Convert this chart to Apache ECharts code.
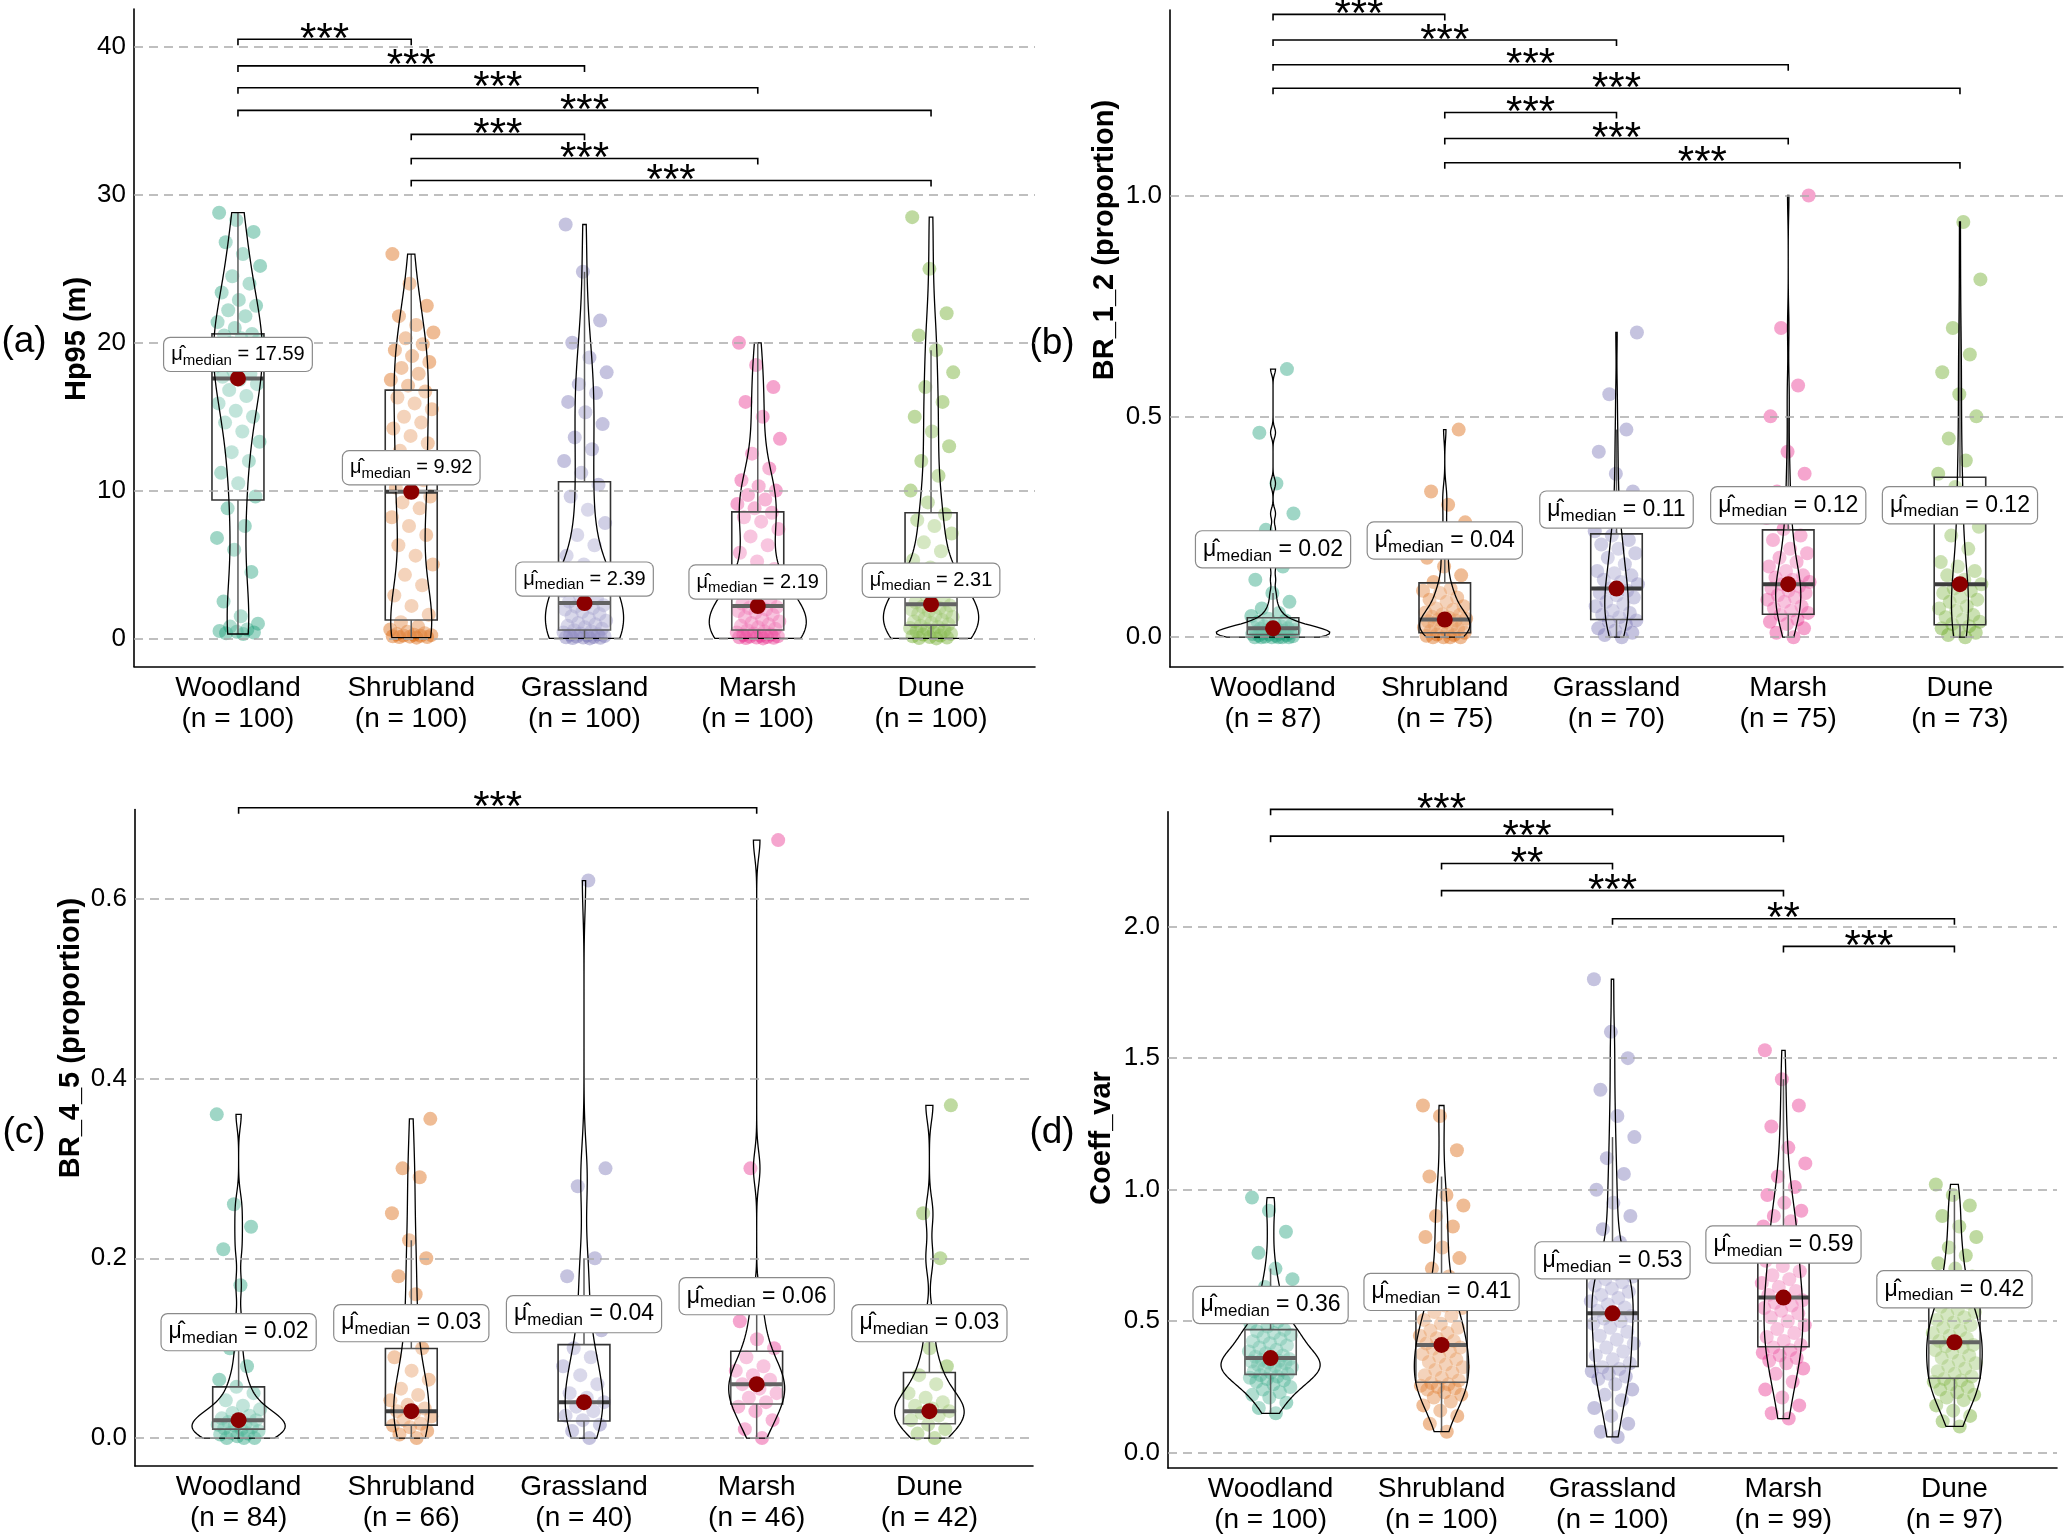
<!DOCTYPE html>
<html><head><meta charset="utf-8">
<script src="https://cdn.jsdelivr.net/npm/echarts@6/dist/echarts.min.js"></script>
<style>html,body{margin:0;padding:0;background:#fff}#c{width:2067px;height:1536px}</style>
</head><body><div id="c"></div>
<script>
// ---------------- DATA ----------------
const categories = ['Woodland','Shrubland','Grassland','Marsh','Dune'];
const colors = ['#1B9E77','#D95F02','#7570B3','#E7298A','#66A61E'];

// (a) Hp95 (m)
const nA = [100,100,100,100,100];
const medA = [17.59, 9.92, 2.39, 2.19, 2.31];
const q1A = [9.36, 1.25, 0.57, 0.57, 0.9];
const q3A = [20.6, 16.8, 10.6, 8.56, 8.5];
const ptsA_Woodland = [0.3,0.35,0.4,0.45,0.5,0.6,0.8,1.0,1.5,2.5,4.5,6.0,6.8,7.6,8.8,9.6,10.5,11.2,12.0,12.6,13.3,14.0,14.6,15.0,15.4,15.9,16.4,16.8,17.2,17.5,17.7,17.9,18.1,18.4,18.7,19.0,19.2,19.4,19.6,19.8,20.0,20.2,20.3,20.5,20.6,21.0,21.4,21.8,22.2,22.5,22.9,23.4,24.0,24.5,25.2,26.0,26.8,27.5,28.3,28.8];
const ptsA_Shrubland = [0.05,0.1,0.1,0.12,0.15,0.18,0.2,0.22,0.25,0.3,0.35,0.45,0.6,0.8,1.1,1.6,2.2,2.9,3.6,4.3,5.0,5.6,6.3,7.0,7.6,8.2,8.8,9.2,9.6,9.9,10.2,10.7,11.2,11.7,12.2,12.7,13.2,13.7,14.2,14.6,15.0,15.5,15.9,16.3,16.7,17.1,17.5,17.9,18.3,18.7,19.1,19.5,19.9,20.3,20.7,21.2,21.8,22.5,24.0,26.0];
const ptsA_Grassland = [0,0.02,0.04,0.06,0.08,0.1,0.13,0.16,0.2,0.24,0.28,0.33,0.4,0.47,0.55,0.65,0.75,0.85,0.95,1.05,1.2,1.35,1.5,1.65,1.8,1.95,2.05,2.15,2.25,2.35,2.5,2.7,2.9,3.2,3.5,3.9,4.4,5.0,5.6,6.3,7.0,7.8,8.7,9.6,10.4,11.2,12.0,12.8,13.6,14.5,15.3,16.0,16.6,17.2,18.0,19.0,20.0,21.5,24.8,28.0];
const ptsA_Marsh = [0,0.02,0.04,0.06,0.08,0.1,0.12,0.15,0.18,0.22,0.27,0.33,0.4,0.47,0.55,0.65,0.75,0.85,0.95,1.05,1.15,1.3,1.45,1.6,1.75,1.85,1.95,2.05,2.12,2.18,2.35,2.6,2.9,3.3,3.7,4.2,4.7,5.2,5.8,6.3,6.9,7.4,7.9,8.2,8.5,8.8,9.1,9.4,9.7,10.0,10.3,10.7,11.5,12.5,13.5,15.0,16.0,17.0,18.5,20.0];
const ptsA_Dune = [0,0.03,0.06,0.1,0.15,0.2,0.26,0.32,0.4,0.48,0.55,0.62,0.7,0.78,0.86,0.95,1.05,1.15,1.25,1.35,1.45,1.55,1.65,1.75,1.85,1.95,2.05,2.15,2.22,2.29,2.45,2.65,2.9,3.2,3.5,3.9,4.3,4.8,5.3,5.9,6.5,7.1,7.6,8.0,8.4,9.2,10.0,11.0,12.0,13.0,14.0,15.0,16.0,17.0,18.0,19.5,20.5,22.0,25.0,28.5];
const ticksA = [0,10,20,30,40];
const pairsA = [[1,2],[1,3],[1,4],[1,5],[2,3],[2,4],[2,5]];
const starsA = ['***','***','***','***','***','***','***'];
const bracketYA = [40.53,38.73,37.25,35.72,34.1,32.47,30.98];

// (b) BR_1_2 (proportion)
const nB = [87,75,70,75,73];
const medB = [0.02,0.04,0.11,0.12,0.12];
const q1B = [0.006,0.010,0.04,0.052,0.028];
const q3B = [0.044,0.123,0.234,0.243,0.362];
const ptsB_Woodland = [0,0,0,0,0,0,0.001,0.002,0.003,0.004,0.005,0.006,0.007,0.008,0.009,0.01,0.011,0.012,0.014,0.015,0.016,0.018,0.019,0.02,0.02,0.022,0.024,0.025,0.028,0.03,0.034,0.038,0.042,0.048,0.055,0.065,0.08,0.1,0.13,0.16,0.243,0.28,0.348,0.463,0.607];
const ptsB_Shrubland = [0,0,0,0,0.003,0.005,0.006,0.01,0.012,0.014,0.018,0.02,0.022,0.026,0.028,0.03,0.034,0.036,0.038,0.04,0.042,0.044,0.046,0.05,0.052,0.056,0.062,0.065,0.07,0.08,0.085,0.09,0.1,0.105,0.11,0.125,0.14,0.16,0.18,0.2,0.22,0.26,0.3,0.33,0.47];
const ptsB_Grassland = [0,0.005,0.01,0.015,0.02,0.03,0.035,0.038,0.045,0.05,0.055,0.06,0.07,0.075,0.08,0.09,0.095,0.1,0.105,0.11,0.12,0.125,0.13,0.14,0.145,0.15,0.165,0.18,0.19,0.2,0.21,0.22,0.23,0.24,0.27,0.3,0.33,0.37,0.42,0.47,0.55,0.69];
const ptsB_Marsh = [0,0.01,0.02,0.03,0.035,0.04,0.05,0.055,0.06,0.065,0.07,0.08,0.085,0.09,0.095,0.1,0.105,0.11,0.115,0.12,0.125,0.13,0.135,0.14,0.15,0.16,0.17,0.18,0.19,0.2,0.22,0.23,0.245,0.27,0.3,0.33,0.37,0.42,0.5,0.57,0.7,1.0];
const ptsB_Dune = [0,0.005,0.01,0.015,0.02,0.025,0.03,0.035,0.04,0.045,0.05,0.06,0.065,0.07,0.08,0.085,0.09,0.1,0.105,0.11,0.12,0.13,0.14,0.15,0.16,0.17,0.2,0.23,0.25,0.27,0.3,0.32,0.34,0.37,0.4,0.45,0.5,0.55,0.6,0.64,0.7,0.81,0.94];
const ticksB = [0,0.5,1.0];
const pairsB = [[1,2],[1,3],[1,4],[1,5],[2,3],[2,4],[2,5]];
const starsB = ['***','***','***','***','***','***','***'];
const bracketYB = [1.410,1.352,1.296,1.243,1.188,1.129,1.074];

// (c) BR_4_5 (proportion)
const nC = [84,66,40,46,42];
const medC = [0.02,0.03,0.04,0.06,0.03];
const q1C = [0.010,0.0145,0.019,0.038,0.016];
const q3C = [0.057,0.0996,0.104,0.0966,0.073];
const ptsC_Woodland = [0,0,0,0.002,0.004,0.005,0.006,0.008,0.01,0.011,0.012,0.014,0.015,0.016,0.018,0.02,0.021,0.022,0.025,0.028,0.032,0.036,0.042,0.05,0.057,0.065,0.08,0.1,0.13,0.17,0.21,0.235,0.26,0.36];
const ptsC_Shrubland = [0,0.004,0.008,0.012,0.014,0.016,0.02,0.024,0.028,0.03,0.033,0.037,0.042,0.048,0.055,0.065,0.075,0.09,0.1,0.12,0.14,0.16,0.18,0.2,0.22,0.25,0.29,0.3,0.355];
const ptsC_Grassland = [0,0.008,0.015,0.02,0.025,0.03,0.035,0.04,0.045,0.05,0.06,0.07,0.08,0.09,0.1,0.12,0.15,0.18,0.2,0.28,0.3,0.62];
const ptsC_Marsh = [0,0.01,0.02,0.03,0.035,0.04,0.045,0.05,0.055,0.06,0.065,0.07,0.075,0.08,0.09,0.1,0.11,0.13,0.15,0.3,0.665];
const ptsC_Dune = [0,0.005,0.01,0.015,0.02,0.025,0.028,0.03,0.033,0.036,0.04,0.045,0.05,0.06,0.07,0.08,0.1,0.13,0.2,0.25,0.37];
const ticksC = [0,0.2,0.4,0.6];
const pairsC = [[1,4]];
const starsC = ['***'];
const bracketYC = [0.701];

// (d) Coeff_var
const nD = [100,100,100,99,97];
const medD = [0.36,0.41,0.53,0.59,0.42];
const q1D = [0.298,0.268,0.328,0.403,0.283];
const q3D = [0.468,0.588,0.698,0.828,0.573];
const ptsD_Woodland = [0.15,0.17,0.19,0.21,0.22,0.23,0.24,0.25,0.26,0.27,0.275,0.28,0.285,0.29,0.295,0.3,0.305,0.31,0.315,0.32,0.325,0.33,0.335,0.34,0.343,0.347,0.35,0.353,0.356,0.359,0.365,0.37,0.378,0.385,0.392,0.4,0.408,0.416,0.424,0.432,0.44,0.448,0.455,0.462,0.467,0.48,0.49,0.5,0.52,0.54,0.56,0.58,0.6,0.63,0.66,0.7,0.76,0.84,0.92,0.97];
const ptsD_Shrubland = [0.08,0.11,0.14,0.16,0.18,0.195,0.21,0.22,0.23,0.24,0.245,0.25,0.255,0.26,0.265,0.275,0.285,0.295,0.305,0.315,0.325,0.335,0.345,0.355,0.365,0.375,0.385,0.395,0.4,0.408,0.415,0.425,0.435,0.445,0.455,0.465,0.475,0.49,0.505,0.52,0.535,0.55,0.56,0.575,0.585,0.61,0.64,0.67,0.7,0.74,0.78,0.82,0.86,0.9,0.94,0.98,1.05,1.15,1.28,1.32];
const ptsD_Grassland = [0.06,0.08,0.11,0.14,0.17,0.2,0.22,0.24,0.26,0.28,0.29,0.3,0.31,0.318,0.325,0.34,0.355,0.37,0.385,0.4,0.415,0.43,0.445,0.46,0.475,0.49,0.5,0.51,0.52,0.528,0.54,0.552,0.564,0.576,0.588,0.6,0.612,0.624,0.636,0.648,0.66,0.67,0.68,0.69,0.697,0.72,0.76,0.8,0.85,0.9,0.95,1.0,1.06,1.12,1.2,1.28,1.38,1.5,1.6,1.8];
const ptsD_Marsh = [0.13,0.15,0.18,0.21,0.24,0.27,0.3,0.32,0.34,0.35,0.36,0.37,0.38,0.39,0.4,0.41,0.425,0.44,0.455,0.47,0.485,0.5,0.515,0.53,0.54,0.55,0.56,0.57,0.58,0.588,0.6,0.615,0.63,0.645,0.66,0.675,0.69,0.71,0.73,0.75,0.77,0.79,0.805,0.815,0.825,0.84,0.86,0.88,0.9,0.92,0.95,0.98,1.01,1.05,1.1,1.16,1.24,1.32,1.42,1.53];
const ptsD_Dune = [0.1,0.12,0.14,0.16,0.18,0.2,0.21,0.22,0.23,0.24,0.25,0.26,0.27,0.275,0.28,0.29,0.3,0.31,0.32,0.33,0.34,0.35,0.36,0.37,0.38,0.39,0.4,0.405,0.41,0.418,0.425,0.435,0.445,0.455,0.465,0.475,0.485,0.495,0.505,0.515,0.525,0.535,0.545,0.555,0.57,0.59,0.61,0.63,0.65,0.67,0.7,0.72,0.75,0.78,0.82,0.86,0.9,0.94,0.98,1.02];
const ticksD = [0,0.5,1.0,1.5,2.0];
const pairsD = [[1,3],[1,4],[2,3],[2,4],[3,5],[4,5]];
const starsD = ['***','***','**','***','**','***'];
const bracketYD = [2.446,2.344,2.240,2.137,2.030,1.925];

// ---------------- PANELS (data refs) ----------------
const panels = [
  {n:nA, med:medA, q1:q1A, q3:q3A, pts:[ptsA_Woodland,ptsA_Shrubland,ptsA_Grassland,ptsA_Marsh,ptsA_Dune], ticks:ticksA, pairs:pairsA, stars:starsA, by:bracketYA, title:'Hp95 (m)', tag:'(a)'},
  {n:nB, med:medB, q1:q1B, q3:q3B, pts:[ptsB_Woodland,ptsB_Shrubland,ptsB_Grassland,ptsB_Marsh,ptsB_Dune], ticks:ticksB, pairs:pairsB, stars:starsB, by:bracketYB, title:'BR_1_2 (proportion)', tag:'(b)'},
  {n:nC, med:medC, q1:q1C, q3:q3C, pts:[ptsC_Woodland,ptsC_Shrubland,ptsC_Grassland,ptsC_Marsh,ptsC_Dune], ticks:ticksC, pairs:pairsC, stars:starsC, by:bracketYC, title:'BR_4_5 (proportion)', tag:'(c)'},
  {n:nD, med:medD, q1:q1D, q3:q3D, pts:[ptsD_Woodland,ptsD_Shrubland,ptsD_Grassland,ptsD_Marsh,ptsD_Dune], ticks:ticksD, pairs:pairsD, stars:starsD, by:bracketYD, title:'Coeff_var', tag:'(d)'}
];

// ---------------- LAYOUT / STYLE ----------------
const layouts = [
  {left:134, top:9, width:901, height:657.5, min:-1.9, max:42.58, dec:0, half:0.28, labOff:24, fs:20, fsSub:15, lh:27, titleX:77, titleY:339, tagX:24, tagY:342},
  {left:1170, top:10, width:893, height:657, min:-0.0675, max:1.42, dec:1, half:0.33, labOff:79, fs:23, fsSub:17, lh:30, titleX:1105, titleY:240, tagX:1052, tagY:344},
  {left:135, top:809.5, width:898, height:656.5, min:-0.031, max:0.699, dec:1, half:0.27, labOff:88, fs:23, fsSub:17, lh:30, titleX:71, titleY:1038, tagX:24, tagY:1133},
  {left:1168, top:811.7, width:889, height:656.8, min:-0.058, max:2.437, dec:1, half:0.29, labOff:53, fs:23, fsSub:17, lh:30, titleX:1102, titleY:1138, tagX:1052, tagY:1133}
];
const FONT = '"Liberation Sans", Arial, Helvetica, sans-serif';

// ---------------- HELPERS ----------------
function quant(s, p){ const h=(s.length-1)*p, lo=Math.floor(h), hi=Math.min(lo+1,s.length-1); return s[lo]+(h-lo)*(s[hi]-s[lo]); }
function density(vals, n){
  const s=[...vals].sort((a,b)=>a-b), m=s.length;
  const mean=s.reduce((a,b)=>a+b,0)/m;
  const sd=Math.sqrt(s.reduce((a,b)=>a+(b-mean)*(b-mean),0)/(m-1));
  const iqr=quant(s,0.75)-quant(s,0.25);
  let lo=Math.min(sd, iqr/1.34); if(!(lo>0)) lo=sd;
  const bw=0.9*lo*Math.pow(n,-0.2);
  const a=s[0], b=s[m-1], out=[];
  for(let k=0;k<=160;k++){
    const y=a+(b-a)*k/160; let d=0;
    for(const v of s){ const z=(y-v)/bw; d+=Math.exp(-0.5*z*z); }
    out.push([y, d/(m*bw*Math.sqrt(2*Math.PI))]);
  }
  return out;
}
function jit(i){ return ((((i+1)*0.6180339887)%1)-0.5)*0.26; }

const chart = echarts.init(document.getElementById('c'), null, {renderer:'canvas'});
const grid=[], xAxis=[], yAxis=[], series=[], graphic=[];

panels.forEach((P, pi) => {
  const L = layouts[pi];
  grid.push({left:L.left, top:L.top, width:L.width, height:L.height});
  xAxis.push({type:'value', gridIndex:pi, min:0.4, max:5.6,
    axisLine:{show:true, onZero:false, lineStyle:{color:'#000', width:1.6}}, axisTick:{show:false}, splitLine:{show:false},
    axisLabel:{customValues:[1,2,3,4,5], color:'#000', fontSize:28, fontFamily:FONT, lineHeight:31, margin:6,
      formatter:(v)=>{ const i=Math.round(v)-1; return categories[i]+'\n(n = '+P.n[i]+')'; }}});
  yAxis.push({type:'value', gridIndex:pi, min:L.min, max:L.max,
    axisLine:{show:true, onZero:false, lineStyle:{color:'#000', width:1.6}}, axisTick:{show:false}, splitLine:{show:false},
    axisLabel:{customValues:P.ticks, color:'#000', fontSize:26, fontFamily:FONT, margin:8,
      formatter:(v)=>v.toFixed(L.dec)}});

  // gridlines
  series.push({type:'line', xAxisIndex:pi, yAxisIndex:pi, data:[], silent:true, z:1,
    markLine:{silent:true, symbol:['none','none'], label:{show:false}, animation:false,
      lineStyle:{color:'#ababab', type:[9,6], width:1.5}, emphasis:{disabled:true},
      data:P.ticks.map(t=>({yAxis:t}))}});

  // jittered points
  P.pts.forEach((vals, g) => {
    series.push({type:'scatter', xAxisIndex:pi, yAxisIndex:pi, silent:true, z:2,
      symbolSize:14, itemStyle:{color:colors[g], opacity:0.42},
      data: vals.map((v,i)=>[g+1+jit(i), v])});
  });

  // violins + boxes
  const profiles = P.pts.map((v,g)=>density(v, P.n[g]));
  let maxD = 0; profiles.forEach(pr=>pr.forEach(p=>{ if(p[1]>maxD) maxD=p[1]; }));
  const whisk = P.pts.map((v,g)=>{
    const iqr=P.q3[g]-P.q1[g], hiF=P.q3[g]+1.5*iqr, loF=P.q1[g]-1.5*iqr;
    let wh=P.q3[g], wl=P.q1[g];
    v.forEach(x=>{ if(x<=hiF && x>wh) wh=x; if(x>=loF && x<wl) wl=x; });
    return [wl, wh];
  });
  series.push({type:'custom', xAxisIndex:pi, yAxisIndex:pi, silent:true, z:3,
    data: categories.map((c,i)=>[i+1, P.med[i]]), encode:{x:0, y:1},
    renderItem:(params, api)=>{
      const g=params.dataIndex, cx=g+1, pr=profiles[g];
      const right=pr.map(([y,d])=>api.coord([cx+d/maxD*L.half, y]));
      const left=pr.slice().reverse().map(([y,d])=>api.coord([cx-d/maxD*L.half, y]));
      const b1=api.coord([cx-0.15, P.q3[g]]), b2=api.coord([cx+0.15, P.q1[g]]);
      const wt=api.coord([cx, whisk[g][1]]), qt=api.coord([cx, P.q3[g]]);
      const qb=api.coord([cx, P.q1[g]]), wb=api.coord([cx, whisk[g][0]]);
      const m1=api.coord([cx-0.15, P.med[g]]), m2=api.coord([cx+0.15, P.med[g]]);
      return {type:'group', children:[
        {type:'line', shape:{x1:wt[0],y1:wt[1],x2:qt[0],y2:qt[1]}, style:{stroke:'#333',lineWidth:1.5}},
        {type:'line', shape:{x1:qb[0],y1:qb[1],x2:wb[0],y2:wb[1]}, style:{stroke:'#333',lineWidth:1.5}},
        {type:'rect', shape:{x:b1[0],y:b1[1],width:b2[0]-b1[0],height:b2[1]-b1[1]}, style:{fill:'rgba(255,255,255,0.2)',stroke:'#333',lineWidth:1.6}},
        {type:'line', shape:{x1:m1[0],y1:m1[1],x2:m2[0],y2:m2[1]}, style:{stroke:'#3c3c3c',lineWidth:4}},
        {type:'polygon', shape:{points:right.concat(left)}, style:{fill:'rgba(255,255,255,0.2)',stroke:'#000',lineWidth:1.3}}
      ]};
    }});

  // median points + labels
  series.push({type:'scatter', xAxisIndex:pi, yAxisIndex:pi, silent:true, z:5,
    symbolSize:16, itemStyle:{color:'#8B0000', opacity:1},
    data: P.med.map((m,i)=>[i+1, m]),
    label:{show:true, position:'inside', offset:[0,-L.labOff],
      formatter:(p)=>'{mu|\u03bc\u0302}{sub|median}{eq| = '+P.med[p.dataIndex].toFixed(2)+'}',
      backgroundColor:'#fff', borderColor:'#8a8a8a', borderWidth:1.2, borderRadius:6, padding:[3,7,3,7],
      rich:{
        mu:{fontSize:L.fs, fontFamily:FONT, color:'#000', lineHeight:L.lh, verticalAlign:'middle'},
        sub:{fontSize:L.fsSub, fontFamily:FONT, color:'#000', lineHeight:L.fsSub+2, verticalAlign:'bottom'},
        eq:{fontSize:L.fs, fontFamily:FONT, color:'#000', lineHeight:L.lh, verticalAlign:'middle'}
      }}});

  // significance brackets
  series.push({type:'custom', xAxisIndex:pi, yAxisIndex:pi, silent:true, z:6, clip:false,
    data: P.pairs.map((p,k)=>[p[0], p[1], P.by[k]]), encode:{x:[0,1], y:2},
    renderItem:(params, api)=>{
      const k=params.dataIndex;
      const a=api.coord([api.value(0), api.value(2)]), b=api.coord([api.value(1), api.value(2)]);
      const tip=6;
      return {type:'group', children:[
        {type:'polyline', shape:{points:[[a[0],a[1]+tip],[a[0],a[1]],[b[0],b[1]],[b[0],b[1]+tip]]}, style:{stroke:'#000', lineWidth:1.6, fill:null}},
        {type:'text', style:{text:P.stars[k], x:(a[0]+b[0])/2, y:a[1]+1, align:'center', verticalAlign:'middle', fontSize:42, fontFamily:FONT, fill:'#000'}}
      ]};
    }});

  // axis title and tag
  graphic.push({type:'text', x:L.titleX, y:L.titleY, rotation:Math.PI/2,
    style:{text:P.title, fontSize:29, fontWeight:'bold', fontFamily:FONT, fill:'#000', align:'center', verticalAlign:'middle', textAlign:'center', textVerticalAlign:'middle'}});
  graphic.push({type:'text', x:L.tagX, y:L.tagY,
    style:{text:P.tag, fontSize:37, fontFamily:FONT, fill:'#000', align:'center', verticalAlign:'middle', textAlign:'center', textVerticalAlign:'middle'}});
});

chart.setOption({animation:false, backgroundColor:'#fff', grid, xAxis, yAxis, series, graphic});
</script></body></html>
